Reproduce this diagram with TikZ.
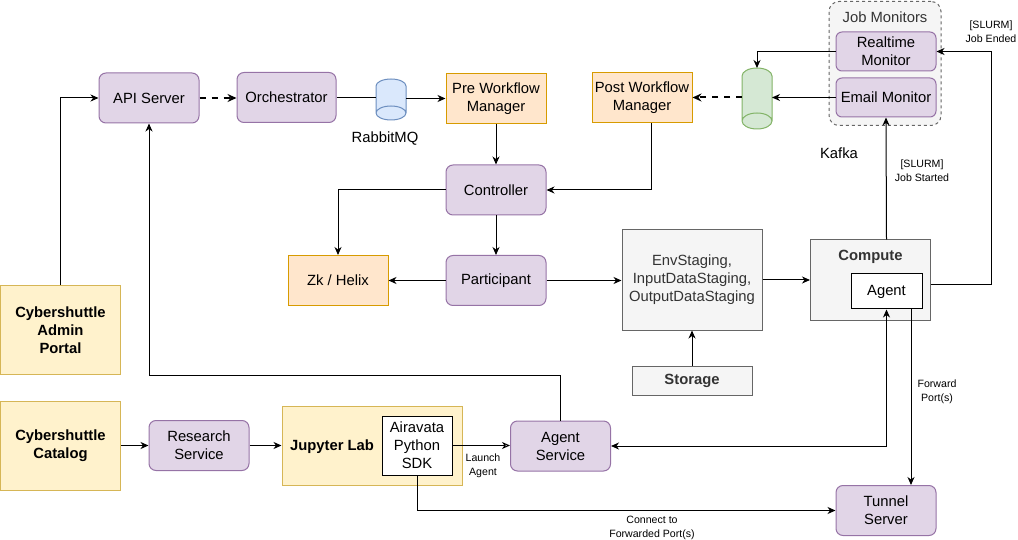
\documentclass[tikz,border=0pt]{standalone}
\usepackage{fontspec}
\setmainfont{Liberation Sans}
\usetikzlibrary{arrows.meta,calc}
\definecolor{purF}{HTML}{E1D5E7}\definecolor{purD}{HTML}{9673A6}
\definecolor{orF}{HTML}{FFE6CC}\definecolor{orD}{HTML}{D79B00}
\definecolor{yeF}{HTML}{FFF2CC}\definecolor{yeD}{HTML}{D6B656}
\definecolor{grF}{HTML}{F5F5F5}\definecolor{grD}{HTML}{666666}
\definecolor{txt}{HTML}{333333}
\definecolor{blF}{HTML}{DAE8FC}\definecolor{blD}{HTML}{6C8EBF}
\definecolor{gnF}{HTML}{D5E8D4}\definecolor{gnD}{HTML}{82B366}
\begin{document}
\begin{tikzpicture}[x=1pt,y=-1pt,
  font=\fontsize{14.8}{18}\selectfont,
  box/.style={draw, line width=1pt, minimum width=100pt, minimum height=50pt, inner sep=2pt, align=center},
  pur/.style={box, fill=purF, draw=purD, rounded corners=7pt},
  ora/.style={box, fill=orF, draw=orD},
  yel/.style={box, fill=yeF, draw=yeD, font=\fontsize{14.8}{18}\selectfont\bfseries},
  gry/.style={box, fill=grF, draw=grD, text=txt},
  wht/.style={draw, fill=white, line width=1pt, inner sep=0pt, align=center},
  anchorbox/.style={inner sep=0pt, outer sep=0pt},
  small/.style={font=\fontsize{10.6}{14}\selectfont, align=center, inner sep=0pt},
  plain/.style={line width=1pt},
  arr/.style={line width=1pt, -{Stealth[length=8pt,width=7pt,inset=2.5pt]}},
  barr/.style={line width=1pt, {Stealth[length=8pt,width=7pt,inset=2.5pt]}-{Stealth[length=8pt,width=7pt,inset=2.5pt]}},
  oarr/.style={line width=1pt, -{Stealth[open,length=8pt,width=7pt,inset=2.5pt]}},
  darr/.style={line width=2pt, dash pattern=on 6pt off 6pt, -{Stealth[length=9pt,width=8pt,inset=3pt]}},
]
\useasboundingbox (0,0) rectangle (1018,540);

% Job Monitors group
\node[draw=grD, fill=grF, dashed, line width=1pt, rounded corners=10pt, minimum width=112pt, minimum height=124pt, anchorbox] (jm) at (885,63.5) {};
\node[text=txt, inner sep=0pt] (jmlabel) at (885,17) {Job Monitors};

% top row
\node[pur] (api) at (149,98) {API Server};
\node[pur, minimum width=99pt] (orch) at (286.5,97.5) {Orchestrator};
\node[anchorbox, minimum width=30pt, minimum height=41pt] (rmq) at (391,99) {};
\fill[blF] (376,86) arc[start angle=180,end angle=0,x radius=15pt,y radius=7pt] -- (406,113) arc[start angle=0,end angle=-180,x radius=15pt,y radius=7pt] -- cycle;
\draw[blD, line width=1pt] (376,86) arc[start angle=180,end angle=0,x radius=15pt,y radius=7pt] -- (406,113) arc[start angle=0,end angle=-180,x radius=15pt,y radius=7pt] -- cycle
  (406,113) arc[start angle=0,end angle=180,x radius=15pt,y radius=7pt];
\node[inner sep=0pt] (rmqlabel) at (385,138.5) {RabbitMQ};
\node[ora] (pre) at (496,98.5) {Pre Workflow\\Manager};
\node[ora] (post) at (642,97.5) {Post Workflow\\Manager};

\node[anchorbox, minimum width=30pt, minimum height=61pt] (kafka) at (757,98.5) {};
\fill[gnF] (742,76) arc[start angle=180,end angle=0,x radius=15pt,y radius=8pt] -- (772,121) arc[start angle=0,end angle=-180,x radius=15pt,y radius=8pt] -- cycle;
\draw[gnD, line width=1pt] (742,76) arc[start angle=180,end angle=0,x radius=15pt,y radius=8pt] -- (772,121) arc[start angle=0,end angle=-180,x radius=15pt,y radius=8pt] -- cycle
  (772,121) arc[start angle=0,end angle=180,x radius=15pt,y radius=8pt];
\node[inner sep=0pt] (kafkalabel) at (839,153.5) {Kafka};

\node[pur, minimum height=39pt, rounded corners=6pt] (rt) at (886,51.5) {Realtime\\Monitor};
\node[pur, minimum height=39pt, rounded corners=6pt] (em) at (886,97.5) {Email Monitor};

% middle
\node[pur] (ctrl) at (496,190) {Controller};
\node[ora] (zk) at (338,280.5) {Zk / Helix};
\node[pur] (part) at (496,280.5) {Participant};
\node[gry, minimum width=140pt, minimum height=100pt] (env) at (692,280) {EnvStaging,\\InputDataStaging,\\OutputDataStaging};
\node[gry, minimum width=120pt, minimum height=29pt, font=\fontsize{14.8}{18}\selectfont\bfseries] (stor) at (692,380.5) {Storage};
\node[gry, minimum width=120pt, minimum height=80pt] (comp) at (870.5,280) {};
\node[text=txt, inner sep=0pt, font=\fontsize{14.8}{18}\selectfont\bfseries] (complabel) at (870.5,256.5) {Compute};
\node[wht, minimum width=71pt, minimum height=35pt] (agent) at (886.5,291.5) {Agent};

% left
\node[yel, minimum width=120pt, minimum height=89pt] (admin) at (60.5,330) {Cybershuttle\\Admin\\Portal};
\node[yel, minimum width=120pt, minimum height=89pt] (cat) at (60.5,445.5) {Cybershuttle\\Catalog};

% bottom
\node[pur] (rs) at (199,445.5) {Research\\Service};
\node[box, fill=yeF, draw=yeD, minimum width=180pt, minimum height=79pt] (jl) at (372,445.5) {};
\node[inner sep=0pt, font=\fontsize{14.8}{18}\selectfont\bfseries] (jllabel) at (332,446.5) {Jupyter Lab};
\node[wht, minimum width=70pt, minimum height=59pt] (sdk) at (417,445.5) {Airavata\\Python\\SDK};
\node[pur] (as) at (560.5,446) {Agent\\Service};
\node[pur] (ts) at (886,510.5) {Tunnel\\Server};

% connectors
\draw[arr] (admin.north) |- (api.west);
\draw[darr] (api.east) -- (orch.west |- api.east);
\draw[plain] (orch.east) -- (rmq.west |- orch.east);
\draw[arr] (rmq.east |- pre.west) -- (pre.west);
\draw[arr] (pre.south) -- (ctrl.north);
\draw[arr] (post.south -| 651,0) |- (ctrl.east);
\draw[arr] (ctrl.west) -| (zk.north);
\draw[arr] (ctrl.south) -- (part.north);
\draw[arr] (part.west) -- (zk.east);
\draw[arr] (part.east) -- (env.west |- part.east);
\draw[arr] (env.east) -- (comp.west);
\draw[arr] (stor.north) -- (env.south);
\draw[arr] (comp.north -| agent.north) -- (em.south);
\coordinate (jeturn) at (991,285);
\draw[arr] (comp.east |- jeturn) -- (jeturn) |- (rt.east);
\draw[arr] (rt.west) -| (kafka.north);
\draw[arr] (em.west) -- (kafka.east |- em.west);
\draw[darr] (kafka.west |- post.east) -- (post.east);
\coordinate (asturn) at (560.5,375);
\draw[arr] (as.north) -- (asturn) -| (api.south);
\draw[arr] (cat.east |- rs.west) -- (rs.west);
\draw[arr] (rs.east) -- (jl.west |- rs.east);
\draw[oarr] (sdk.east) -- (as.west |- sdk.east);
\draw[barr] (as.east) -| (agent.south);
\draw[arr] (agent.south -| 911,0) -- (ts.north -| 911,0);
\draw[arr] (sdk.south) |- (ts.west);

% labels
\node[small] (slurmend) at (991,32) {[SLURM]\\Job Ended};
\node[small] (slurmstart) at (922,170.5) {[SLURM]\\Job Started};
\node[small] (launch) at (483,466) {Launch\\Agent};
\node[small] (fwd) at (937,392) {Forward\\Port(s)};
\node[small] (connect) at (652,527.5) {Connect to\\Forwarded Port(s)};
\end{tikzpicture}
\end{document}
